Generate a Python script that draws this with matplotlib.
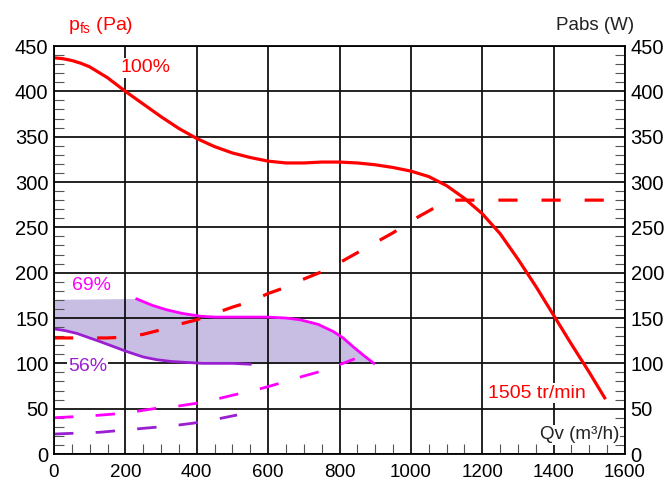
import matplotlib
matplotlib.use('Agg')
import matplotlib.pyplot as plt
import numpy as np
from matplotlib.ticker import MultipleLocator

plt.rcParams['font.family'] = ['Liberation Sans', 'DejaVu Sans']
plt.rcParams['mathtext.default'] = 'regular'

# 100% curve, pressure (Pa) and absorbed power (W)
q_100 = [0, 25, 50, 75, 100, 150, 200, 250, 300, 350, 400, 450, 500, 550, 600, 650, 700, 750, 800,
         850, 900, 950, 1000, 1050, 1100, 1150, 1200, 1250, 1300, 1350, 1400, 1450, 1500, 1543]
p_100 = [437, 436, 434, 431, 427, 415, 400, 386, 372, 359, 348, 339, 332, 327, 323, 321, 321, 322, 322,
         321, 319, 316, 312, 306, 296, 282, 265, 243, 215, 185, 153, 121, 90, 62]
qw_100 = [0, 50, 100, 150, 200, 250, 300, 350, 400, 450, 500, 550, 600, 650, 700, 750, 800,
          850, 900, 950, 1000, 1050, 1100, 1130, 1600]
w_100 = [128, 128, 128, 128, 129, 132, 137, 143, 148, 155, 162, 168, 177, 184, 193, 201, 211,
         222, 233, 244, 257, 268, 279, 280, 280]

# 69%
q_69 = [232, 275, 316, 360, 409, 450, 502, 550, 597, 650, 690, 740, 783, 810, 839, 870, 896]
p_69 = [171, 164, 159, 155, 152, 151, 151, 151, 151, 150, 148, 143, 135, 128, 118, 108, 100]
qw_69 = [0, 50, 100, 166, 230, 297, 350, 400, 450, 502, 550, 597, 650, 700, 737, 790, 843]
w_69 = [40, 41, 42, 44, 47, 51, 53, 56, 60, 65, 69, 74, 80, 86, 90, 97, 105]

# 56%
q_56 = [0, 32, 64, 100, 129, 170, 204, 250, 288, 330, 372, 415, 457, 500, 550]
p_56 = [138, 136, 133, 128, 124, 118, 113, 107, 104, 102, 101, 100, 100, 100, 99]
qw_56 = [0, 64, 129, 185, 241, 300, 350, 390, 450, 513]
w_56 = [22, 23, 24, 26, 28, 30, 32, 34, 38, 43]

red = '#ff0000'
magenta = '#ff00ff'
purple = '#9a1fd0'

fig = plt.figure(figsize=(6.67, 4.82), dpi=100)
ax = fig.add_axes([54 / 667, 28 / 482, 571 / 667, 408 / 482])

# shaded zone between 56% and 69%
top_x = [0] + q_69
top_y = [170] + p_69
bot_x = q_56 + [896]
bot_y = p_56 + [100]
ax.fill(top_x + bot_x[::-1], top_y + bot_y[::-1], color='#c8bee4', zorder=1, lw=0)

ax.plot(q_100, p_100, color=red, lw=2.3, zorder=4, solid_joinstyle='round')
ax.plot(qw_100, w_100, color=red, lw=2.3, dashes=(6, 7.5), zorder=4)
ax.plot(q_69, p_69, color=magenta, lw=2.0, zorder=4, solid_joinstyle='round')
ax.plot(qw_69, w_69, color=magenta, lw=2.0, dashes=(7, 8), zorder=4)
ax.plot(q_56, p_56, color=purple, lw=2.0, zorder=4, solid_joinstyle='round')
ax.plot(qw_56, w_56, color=purple, lw=2.0, dashes=(7, 8), zorder=4)

ax.set_xlim(0, 1600)
ax.set_ylim(0, 450)
ax.xaxis.set_major_locator(MultipleLocator(200))
ax.xaxis.set_minor_locator(MultipleLocator(50))
ax.yaxis.set_major_locator(MultipleLocator(50))
ax.yaxis.set_minor_locator(MultipleLocator(10))
ax.grid(True, which='major', color='#111111', lw=1.3, zorder=2)
ax.set_axisbelow(False)
ax.tick_params(which='both', direction='in', labelsize=14.5, right=True, labelright=True,
               top=False, color='#555555')
ax.tick_params(axis='y', which='major', length=0, pad=4)
ax.tick_params(axis='x', which='major', length=0, pad=7, labelsize=13.5)
ax.tick_params(which='minor', length=7, width=0.8)
for s in ax.spines.values():
    s.set_linewidth(1.3)
    s.set_zorder(5)

box = dict(facecolor='white', edgecolor='none', pad=1)
ax.text(185, 426, '100%', color=red, fontsize=14, va='center', bbox=box, zorder=3)
ax.text(50, 186, '69%', color=magenta, fontsize=14, va='center', zorder=3)
ax.text(39, 97, '56%', color=purple, fontsize=14, va='center', bbox=box, zorder=3)
ax.text(1217, 67, '1505 tr/min', color=red, fontsize=14, va='center', bbox=box, zorder=3)
ax.text(1583, 21, 'Qv (m³/h)', color='#222222', fontsize=13.5, va='center', ha='right',
        bbox=box, zorder=3)

fig.text(68 / 667, 1 - 25 / 482, r'$p_{fs}$ (Pa)', color=red, fontsize=14, va='center')
fig.text(634 / 667, 1 - 25 / 482, 'Pabs (W)', color='#222222', fontsize=13.5, va='center',
         ha='right')

fig.savefig('out.png', dpi=100)
